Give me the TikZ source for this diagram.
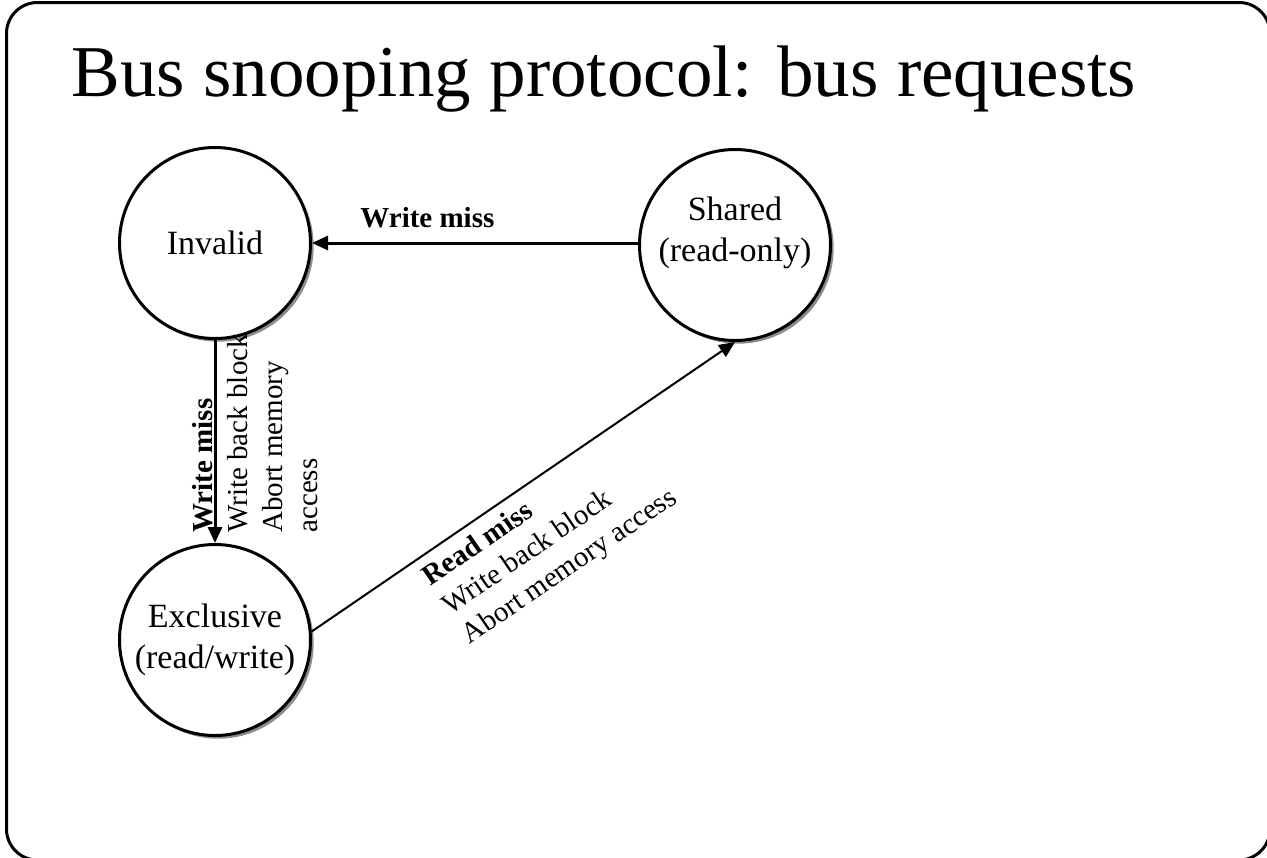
\documentclass[tikz,border=0pt]{standalone}
\usepackage{fontspec}
\setmainfont{Liberation Serif}
\usetikzlibrary{arrows.meta,shadows}
\begin{document}
\begin{tikzpicture}[x=0.5pt,y=0.5pt,
  state/.style={circle, draw=black, line width=1.5pt, fill=white,
    minimum size=95.5pt, inner sep=0pt, align=center,
    font=\fontsize{17pt}{20.5pt}\selectfont,
    drop shadow={shadow xshift=1.6pt, shadow yshift=-1.6pt, fill=black!45, opacity=1}},
  statetext/.style={font=\fontsize{17pt}{20.5pt}\selectfont, align=center, inner sep=0pt},
  lbl/.style={font=\fontsize{14.5pt}{17.5pt}\selectfont, inner sep=0pt, anchor=base west},
  arr/.style={-{Triangle[length=8pt,width=7pt]}, line width=1.5pt},
]
\useasboundingbox (0,0) rectangle (1267,-857);
% slide frame
\draw[line width=1.5pt, rounded corners=15.5pt] (6.5,-2.5) rectangle (1270,-860);

% title
\node[font=\fontsize{36.5pt}{44pt}\selectfont, anchor=base, inner sep=0pt] (title) at (604,-96)
  {Bus snooping protocol: bus requests};

% states
\node[state] (invalid) at (215,-243) {Invalid};
\node[state] (exclusive) at (215,-640) {Exclusive\\(read/write)};
\node[state] (shared) at (735,-245) {};
\node[statetext] (sharedtxt) at (735,-233) {Shared\\(read-only)};

% transitions
\draw[arr] (invalid.east -| shared.west) -- (invalid.east);
\draw[arr] (invalid.south) -- (exclusive.north);
\draw[arr, line width=1pt] (exclusive.5) -- (shared.south);

% transition labels
\node[lbl] (wmh) at (360,-227) {\bfseries Write miss};

\begin{scope}[shift={(212,-533)}, rotate=90, transform shape]
  \node[lbl] (v1) at (0,0) {\bfseries Write miss};
  \node[lbl] (v2) at (0,-35) {Write back block};
  \node[lbl] (v3) at (0,-70) {Abort memory};
  \node[lbl] (v4) at (0,-105) {access};
\end{scope}

\begin{scope}[shift={(430,-587)}, rotate=34.4, transform shape]
  \node[lbl] (d1) at (0,0) {\bfseries Read miss};
  \node[lbl] (d2) at (0,-35) {Write back block};
  \node[lbl] (d3) at (0,-70) {Abort memory access};
\end{scope}
\end{tikzpicture}
\end{document}
